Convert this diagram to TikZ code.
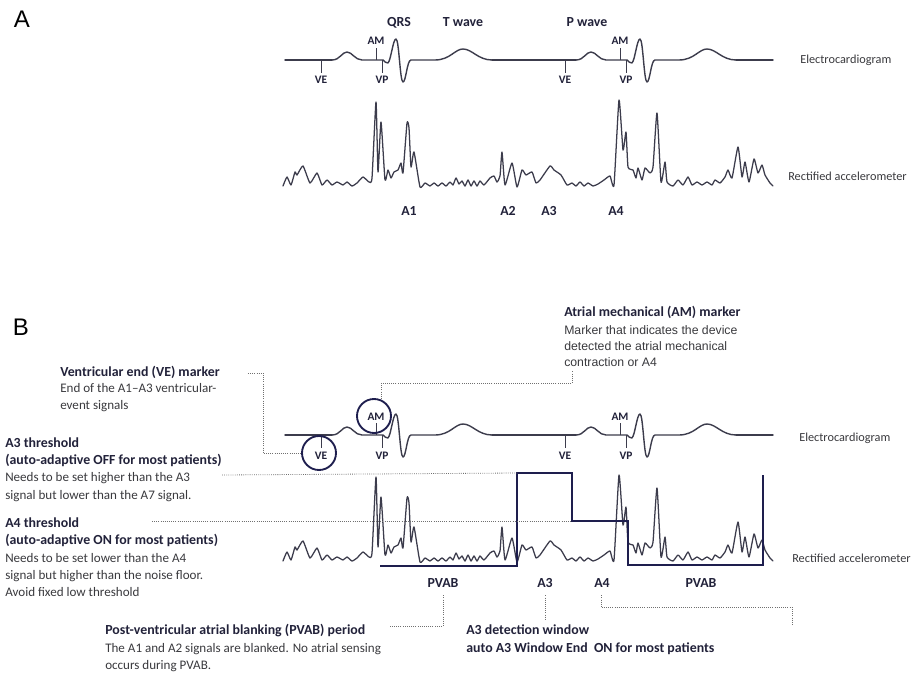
\documentclass[tikz,border=0pt]{standalone}
\usepackage{fontspec}
\setmainfont{Carlito}
\newfontfamily\arialf{Liberation Sans}
\usetikzlibrary{calc}
\definecolor{txtc}{HTML}{22223A}
\definecolor{descc}{HTML}{3A3A3E}
\definecolor{sigc}{HTML}{3C3C4C}
\definecolor{navyc}{HTML}{1E1E4E}
\definecolor{dotc}{HTML}{707070}

\newcommand\ecgbeat{(332,60) .. controls (340,60) and (342,52) .. (347,52) .. controls (352,52) and (355,60) .. (362,60) -- (383,60) .. controls (385,61) and (386,64) .. (388,63) .. controls (391,60) and (393,39) .. (396,39) .. controls (399,39) and (400,82) .. (403,82) .. controls (406,82) and (407,60) .. (411,60) -- (435,60) .. controls (450,60) and (455,49) .. (463,49) .. controls (472,49) and (478,60) .. (492,60)}

\newcommand\accdata{(283,186)(287,177)(291,185)(295,172)(297,175)(303,166)(310,183)(317,173)(322,185)(327,180)(332,185)(337,182)(343,185)(347,182)(352,186)(357,183)(363,177)(369,182)(372,178)(376,102)(378,172)(381,122)(385,180)(388,170)(391,178)(394,172)(398,170)(401,163)(403,173)(407,123)(409,128)(411,167)(414,152)(420,187)(425,183)(430,186)(434,183)(438,186)(442,183)(446,186)(450,182)(453,185)(456,178)(459,184)(462,181)(465,186)(468,180)(471,186)(474,181)(477,186)(480,181)(484,185)(490,178)(494,176)(497,182)(500,176)(502,152)(505,185)(512,163)(517,187)(522,170)(526,175)(532,172)(536,183)(540,180)(550,166)(554,170)(561,175)(567,185)(572,183)(576,186)(580,182)(584,186)(588,183)(593,186)(598,184)(604,180)(610,176)(614,185)(619,100)(623,150)(626,132)(628,167)(633,170)(636,178)(638,168)(642,180)(645,168)(650,173)(653,167)(657,113)(661,182)(665,162)(667,182)(673,186)(678,180)(683,185)(688,177)(692,185)(697,182)(702,185)(707,182)(712,185)(715,180)(720,183)(725,177)(728,170)(732,178)(738,147)(742,177)(745,162)(749,182)(754,159)(758,173)(762,165)(765,175)(770,183)(773,186)}

\newcommand\ecgtrace[1]{%
  \draw[ecg] (285,60) -- (332,60);
  \draw[ecg] \ecgbeat;
  \draw[ecg] (492,60) -- (576,60);
  \begin{scope}[shift={(244,0)}]\draw[ecg] \ecgbeat;\end{scope}
  \draw[ecg] (736,60) -- (773,60);
  \draw[tickl] (321,60) -- (321,73);
  \draw[tickl] (376,60) -- (376,48);
  \draw[tickl] (382,60) -- (382,73);
  \draw[tickl] (565,60) -- (565,73);
  \draw[tickl] (620,60) -- (620,48);
  \draw[tickl] (626,60) -- (626,73);
  \node[mk] (veone#1) at (321,84) {VE};
  \node[mk] (amone#1) at (376,45) {AM};
  \node[mk] (vpone#1) at (382,84) {VP};
  \node[mk] (vetwo#1) at (565,84) {VE};
  \node[mk] (amtwo#1) at (620,45) {AM};
  \node[mk] (vptwo#1) at (626,84) {VP};
  \draw[accl] plot[smooth, tension=0.3] coordinates {\accdata};
}

\tikzset{
  ecg/.style={draw=sigc, line width=1.05pt, line join=round, line cap=round},
  accl/.style={draw=sigc, line width=0.95pt, line join=round, line cap=round},
  tickl/.style={draw=sigc, line width=0.75pt},
  mk/.style={font=\fontsize{8.6}{10}\selectfont\bfseries, text=txtc, inner sep=0, anchor=base},
  wl/.style={font=\fontsize{10.4}{12}\selectfont\bfseries, text=txtc, inner sep=0, anchor=base},
  side/.style={font=\fontsize{9.2}{12}\selectfont, text=descc, inner sep=0, anchor=base west},
  reg/.style={font=\fontsize{9.8}{12}\selectfont, text=descc, inner sep=0, anchor=base west},
  bld/.style={font=\fontsize{10.4}{12}\selectfont\bfseries, text=txtc, inner sep=0, anchor=base west},
  ari/.style={font=\arialf\fontsize{9.2}{12}\selectfont, text=descc, inner sep=0, anchor=base west},
  panel/.style={font=\arialf\fontsize{18}{20}\selectfont, text=black, inner sep=0, anchor=base},
  dotline/.style={draw=dotc, line width=0.6pt, densely dotted},
  boxline/.style={draw=navyc, line width=2.1pt, line join=miter},
  ring/.style={circle, draw=navyc, line width=1.4pt, minimum size=25.5pt, inner sep=0},
}

\begin{document}
\begin{tikzpicture}[x=0.75pt,y=-0.75pt]
\useasboundingbox (0,0) rectangle (916,673);
\fill[white] (0,0) rectangle (916,673);

% ---------------- Panel A ----------------
\node[panel] (pA) at (22,28) {A};
\ecgtrace{A}
\node[wl] (qrs) at (399,27) {QRS};
\node[wl] (twave) at (463,27) {T wave};
\node[wl] (pwave) at (587,27) {P wave};
\node[side] (ecgA) at (800,64) {Electrocardiogram};
\node[side] (accA) at (788,181) {Rectified accelerometer};
\node[wl] (aone) at (409,216) {A1};
\node[wl] (atwo) at (508,216) {A2};
\node[wl] (athree) at (549,216) {A3};
\node[wl] (afour) at (616,216) {A4};

% ---------------- Panel B ----------------
\node[panel] (pB) at (21,335) {B};
\begin{scope}[shift={(0,375)}]
  \ecgtrace{B}
\end{scope}
\node[side] (ecgB) at (799,441) {Electrocardiogram};
\node[side] (accB) at (792,562) {Rectified accelerometer};

\node[ring] (vecirc) at (319,453) {};
\node[ring] (amcirc) at (374,416) {};

% blanking / window box
\coordinate (bA) at (380,566);
\coordinate (bB) at (517,566);
\coordinate (bC) at (517,473);
\coordinate (bD) at (572,473);
\coordinate (bE) at (572,521);
\coordinate (bF) at (628,521);
\coordinate (bG) at (628,565);
\coordinate (bH) at (763,565);
\coordinate (bI) at (763,475);
\draw[boxline] (bA) -- (bB) -- (bC) -- (bD) -- (bE) -- (bF) -- (bG) -- (bH) -- (bI);

\node[wl] (pvabone) at (443,587) {PVAB};
\node[wl] (athreeB) at (545,587) {A3};
\node[wl] (afourB) at (602,587) {A4};
\node[wl] (pvabtwo) at (701,587) {PVAB};

% VE annotation
\node[bld] (vetitle) at (60,376) {Ventricular end (VE) marker};
\node[reg] (vedone) at (60,392) {End of the A1–A3 ventricular-};
\node[reg] (vedtwo) at (60,409) {event signals};
\draw[dotline] ($(vetitle.east)+(28,1)$) -- ++(15,0) |- (vecirc.west);

% AM annotation
\node[bld] (amtitle) at (564,316) {Atrial mechanical (AM) marker};
\node[ari] (amdone) at (564,334) {Marker that indicates the device};
\node[ari] (amdtwo) at (564,350) {detected the atrial mechanical};
\node[ari] (amdthree) at (564,366) {contraction or A4};
\draw[dotline] ($(amdthree.south west)+(8,5)$) -- ++(0,12) -| ($(amcirc.north)+(7,1)$);

% A3 threshold annotation
\node[bld] (athtitle) at (5,447) {A3 threshold};
\node[bld] (athsub) at (5,464) {(auto-adaptive OFF for most patients)};
\node[reg] (athdone) at (5,481) {Needs to be set higher than the A3};
\node[reg] (athdtwo) at (5,499) {signal but lower than the A7 signal.};
\coordinate (thrthreeS) at (222,475);
\draw[dotline] (thrthreeS) -- (bC);

% A4 threshold annotation
\node[bld] (afttitle) at (5,527) {A4 threshold};
\node[bld] (aftsub) at (5,544) {(auto-adaptive ON for most patients)};
\node[reg] (aftdone) at (5,562) {Needs to be set lower than the A4};
\node[reg] (aftdtwo) at (5,579) {signal but higher than the noise floor.};
\node[reg] (aftdthree) at (5,596) {Avoid fixed low threshold};
\coordinate (thrfourS) at (152,521);
\draw[dotline] (thrfourS) -- (bE);

% PVAB annotation
\node[bld] (pvabtitle) at (105,634) {Post-ventricular atrial blanking (PVAB) period};
\node[reg] (pvabdone) at (105,652) {The A1 and A2 signals are blanked. No atrial sensing};
\node[reg] (pvabdtwo) at (105,669) {occurs during PVAB.};
\draw[dotline] ($(pvabone.south)+(0,8)$) |- ($(pvabtitle.east)+(23,-4)$);

% A3 window annotation
\node[bld] (wintitle) at (466,634) {A3 detection window};
\node[bld] (winsub) at (466,652) {auto A3 Window End\ \ ON for most patients};
\coordinate (athreeEnd) at (545,620);
\draw[dotline] ($(athreeB.south)+(0,8)$) -- (athreeEnd);
\coordinate (afourEnd) at (792,625);
\draw[dotline] ($(afourB.south)+(-1,8)$) -- ++(0,12) -| (afourEnd);

\end{tikzpicture}
\end{document}
